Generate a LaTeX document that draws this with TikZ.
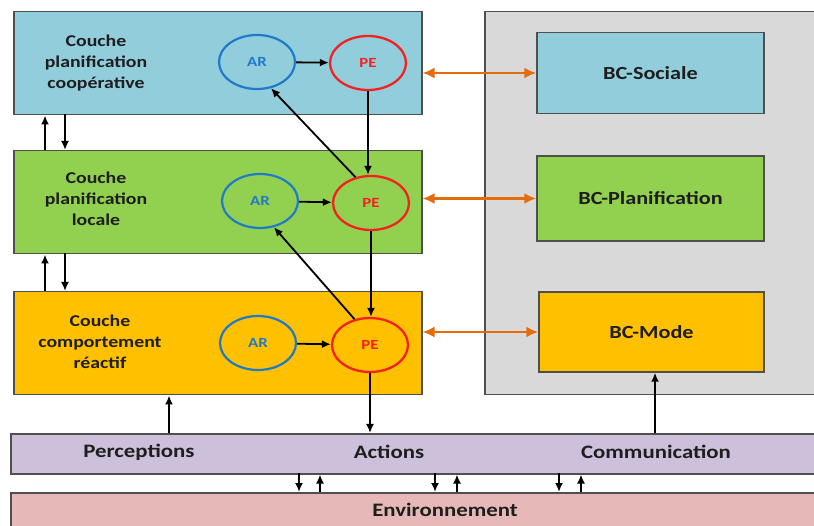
\documentclass[tikz,border=0pt]{standalone}
\usepackage{fontspec}
\setmainfont[FakeStretch=1.2]{Carlito}
\usetikzlibrary{arrows.meta,shapes.geometric}

\definecolor{edgegray}{HTML}{4F4F4F}
\definecolor{coopblue}{HTML}{92CDDC}
\definecolor{localgreen}{HTML}{92D050}
\definecolor{reactorange}{HTML}{FFC000}
\definecolor{bcgray}{HTML}{D9D9D9}
\definecolor{barlilac}{HTML}{CCC0DA}
\definecolor{envpink}{HTML}{E6B9B8}
\definecolor{linkorange}{HTML}{E46C0A}
\definecolor{arblue}{HTML}{1F7BC8}
\definecolor{pered}{HTML}{F52020}
\definecolor{inkdark}{HTML}{1E1E1E}

\tikzset{
  panel/.style={draw=edgegray, line width=1.5pt, anchor=north west, inner sep=0pt},
  layertext/.style={align=center, text=inkdark, font=\fontsize{16.5}{21}\selectfont\bfseries},
  bcbox/.style={draw=edgegray, line width=1.5pt, inner sep=0pt, text=inkdark,
    font=\fontsize{18.5}{22}\selectfont\bfseries},
  bartext/.style={text=inkdark, font=\fontsize{19}{22}\selectfont\bfseries},
  arnode/.style={ellipse, draw=arblue, line width=2.2pt, minimum width=76pt, minimum height=54pt,
    inner sep=0pt, text=arblue, font=\fontsize{14}{16}\selectfont\bfseries},
  penode/.style={ellipse, draw=pered, line width=2.3pt, minimum width=76pt, minimum height=54pt,
    inner sep=0pt, text=pered, font=\fontsize{14}{16}\selectfont\bfseries},
  arr/.style={draw=black, line width=1.8pt, -{Latex[length=9pt,width=8pt]}},
  link/.style={draw=linkorange, line width=2.8pt, {Latex[length=12pt,width=11pt]}-{Latex[length=12pt,width=11pt]}}
}

\begin{document}
\begin{tikzpicture}[x=1pt,y=-1pt]
\useasboundingbox (0,0) rectangle (814,526);
\clip (0,0) rectangle (814,526);
\fill[white] (0,0) rectangle (814,526);

% knowledge base panel
\node[panel, fill=bcgray, minimum width=360pt, minimum height=383pt] (kb) at (484,11) {};

% the three layers
\node[panel, fill=coopblue, minimum width=408pt, minimum height=103pt] (L1) at (13,11) {};
\node[panel, fill=localgreen, minimum width=408pt, minimum height=103pt] (L2) at (13,150) {};
\node[panel, fill=reactorange, minimum width=408pt, minimum height=103pt] (L3) at (13,291) {};

\node[layertext] (t1) at (96,63) {Couche\\planification\\coopérative};
\node[layertext] (t2) at (96,199) {Couche\\planification\\locale};
\node[layertext] (t3) at (100,342) {Couche\\comportement\\réactif};

% AR / PE modules
\node[arnode] (AR1) at (257,62) {AR};
\node[penode] (PE1) at (368,63) {PE};
\node[arnode] (AR2) at (260,201) {AR};
\node[penode] (PE2) at (371,203) {PE};
\node[arnode] (AR3) at (258,343) {AR};
\node[penode] (PE3) at (370,345) {PE};

% knowledge bases
\node[bcbox, fill=coopblue, minimum width=227pt, minimum height=81pt] (BC1) at (650.5,73) {BC-Sociale};
\node[bcbox, fill=localgreen, minimum width=227pt, minimum height=85pt] (BC2) at (650.5,198.5) {BC-Planification};
\node[bcbox, fill=reactorange, minimum width=225pt, minimum height=80pt] (BC3) at (651.5,332) {BC-Mode};

% interface bar and environment
\node[panel, fill=barlilac, minimum width=840pt, minimum height=40pt] (bar) at (10,433) {};
\node[panel, fill=envpink, minimum width=840pt, minimum height=50pt] (env) at (10,492) {};
\node[bartext] (perc) at (139,452) {Perceptions};
\node[bartext] (act) at (389,452) {Actions};
\node[bartext] (comm) at (656,452) {Communication};
\node[bartext] (envt) at (445,510) {Environnement};

% inside each layer
\draw[arr] (AR1) -- (PE1);
\draw[arr] (AR2) -- (PE2);
\draw[arr] (AR3) -- (PE3);
\draw[arr] (PE1.south) -- (PE1.south |- PE2.north);
\draw[arr] (PE2.south) -- (PE2.south |- PE3.north);
\draw[arr] (PE2.121) -- (AR1.-62);
\draw[arr] (PE3.121) -- (AR2.-62);

% between layers
\coordinate (u1) at (45,150);
\coordinate (d1) at (65,114);
\coordinate (u2) at (45,291);
\coordinate (d2) at (65,253);
\draw[arr] (u1) -- (u1 |- L1.south);
\draw[arr] (d1) -- (d1 |- L2.north);
\draw[arr] (u2) -- (u2 |- L2.south);
\draw[arr] (d2) -- (d2 |- L3.north);

% layers to knowledge bases
\draw[link] (L1.east |- BC1.west) -- (BC1.west);
\draw[link] (L2.east |- BC2.west) -- (BC2.west);
\draw[link] (L3.east |- BC3.west) -- (BC3.west);

% bar to agent
\coordinate (pc) at (169,433);
\coordinate (cc) at (655,433);
\draw[arr] (pc) -- (pc |- L3.south);
\draw[arr] (PE3.south) -- (PE3.south |- bar.north);
\draw[arr] (cc) -- (cc |- BC3.south);

% bar to environment
\foreach \dx/\ux [count=\i] in {299/320, 435/457, 559/581}{
  \coordinate (dn\i) at (\dx,473);
  \coordinate (up\i) at (\ux,492);
  \draw[arr] (dn\i) -- (dn\i |- env.north);
  \draw[arr] (up\i) -- (up\i |- bar.south);
}
\end{tikzpicture}
\end{document}
